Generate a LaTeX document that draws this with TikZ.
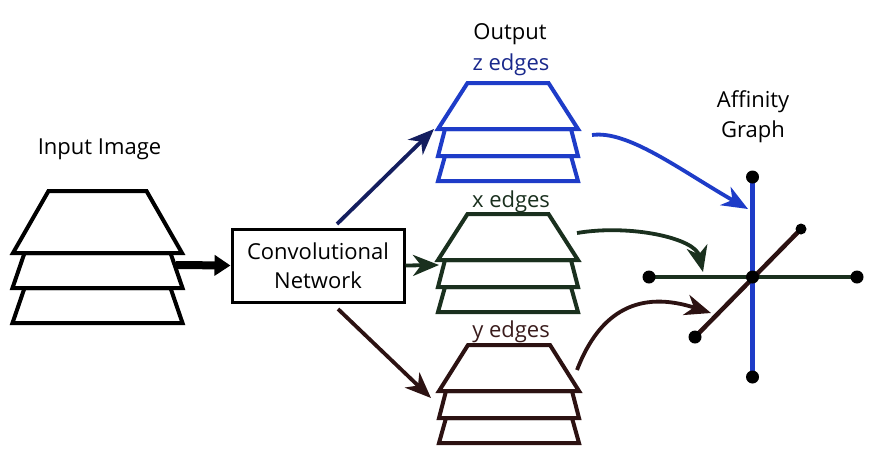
\documentclass[tikz,border=0pt]{standalone}
\usepackage{fontspec}
\setmainfont{Open Sans}
\usetikzlibrary{arrows.meta}
\definecolor{zblue}{RGB}{30,60,200}
\definecolor{znavy}{RGB}{20,30,95}
\definecolor{ztext}{RGB}{25,40,140}
\definecolor{xgreen}{RGB}{26,48,30}
\definecolor{ygrey}{RGB}{44,18,18}
\definecolor{ytext}{RGB}{58,28,28}
\newcommand\traplayer[6]{%
  \filldraw[#1] ({#2-#3},#5) -- ({#2+#3},#5) -- ({#2+#4},#6) -- ({#2-#4},#6) -- cycle;}
\begin{document}
\begin{tikzpicture}[x=1pt,y=-1pt,
  font=\fontsize{22}{29}\selectfont,
  inlayer/.style={draw=black,fill=white,line width=4pt,line join=miter},
  zlayer/.style={draw=zblue,fill=white,line width=4pt},
  xlayer/.style={draw=xgreen,fill=white,line width=4pt},
  ylayer/.style={draw=ygrey,fill=white,line width=4pt},
  lbl/.style={anchor=base,inner sep=0pt},
  tip/.style={-{Stealth[length=26pt,width=21pt,inset=8pt]}},
  conn/.style={tip,line width=3.8pt},
  gline/.style={line width=4.5pt},
  dot/.style={circle,fill=black,inner sep=0pt,minimum size=#1},
  dot/.default=13pt]
\useasboundingbox (0,0) rectangle (874,464);
% input stack
\traplayer{inlayer}{97.5}{73}{85}{288}{323}
\traplayer{inlayer}{97.5}{73}{85}{253}{288}
\traplayer{inlayer}{97.5}{49}{84.5}{191}{253}
\node[lbl] (inlbl) at (99.5,154) {Input Image};
% z stack
\traplayer{zlayer}{508}{63}{70}{156}{181}
\traplayer{zlayer}{508}{63}{70}{129}{156}
\traplayer{zlayer}{508}{40.5}{70}{83}{129}
\node[lbl] (outlbl) at (510,39) {Output};
\node[lbl,text=ztext] (zlbl) at (511,70) {z edges};
% x stack
\traplayer{xlayer}{508}{63}{70}{287}{312}
\traplayer{xlayer}{508}{63}{70}{260}{287}
\traplayer{xlayer}{508}{40.5}{70}{214}{260}
\node[lbl,text=xgreen] (xlbl) at (511,207) {x edges};
% y stack
\traplayer{ylayer}{509}{63}{70}{418}{443}
\traplayer{ylayer}{509}{63}{70}{391}{418}
\traplayer{ylayer}{509}{41}{70}{345}{391}
\node[lbl,text=ytext] (ylbl) at (511,337) {y edges};
% convolutional network
\node[draw,line width=3pt,minimum width=172pt,minimum height=73pt,align=center,inner sep=0pt]
  (conv) at (318,265.5) {Convolutional\\Network};
% connectors
\coordinate (inR) at (176,265);
\draw[line width=8pt,-{Triangle[length=16pt,width=20pt]}] (inR) -- (conv.west);
\coordinate (convZ) at (337,224);
\coordinate (zIn) at (434,129);
\coordinate (xIn) at (439,265);
\coordinate (convY) at (338,309);
\coordinate (yIn) at (431,398);
\draw[conn,znavy] (convZ) -- (zIn);
\draw[conn,xgreen] (conv.east) -- (xIn);
\draw[conn,ygrey] (convY) -- (yIn);
% affinity graph
\node[lbl] (afflbl) at (753,107) {Affinity};
\node[lbl] (graphlbl) at (753,137) {Graph};
\coordinate (gT) at (752.5,177);
\coordinate (gB) at (752.5,377);
\coordinate (gL) at (649,277);
\coordinate (gR) at (857,277);
\coordinate (gC) at (752.5,277);
\coordinate (gD1) at (695,337);
\coordinate (gD2) at (801,229);
\draw[gline,xgreen] (gL) -- (gR);
\draw[gline,zblue] (gT) -- (gB);
\draw[gline,ygrey] (gD1) -- (gD2);
\foreach \p in {gT,gB,gL,gR,gC,gD1} \node[dot] at (\p) {};
\node[dot=11pt] at (gD2) {};
% curved arrows
\coordinate (zOut) at (592,135);
\coordinate (zTip) at (748,209);
\coordinate (xOut) at (577,233);
\coordinate (xTip) at (703,272);
\coordinate (yOut) at (577,370);
\coordinate (yTip) at (711,313);
\draw[conn,zblue] (zOut) .. controls (628,130) and (680,170) .. (zTip);
\draw[conn,xgreen] (xOut) .. controls (630,224) and (695,238) .. (xTip);
\draw[conn,ygrey] (yOut) .. controls (600,310) and (640,290) .. (yTip);
\end{tikzpicture}
\end{document}
